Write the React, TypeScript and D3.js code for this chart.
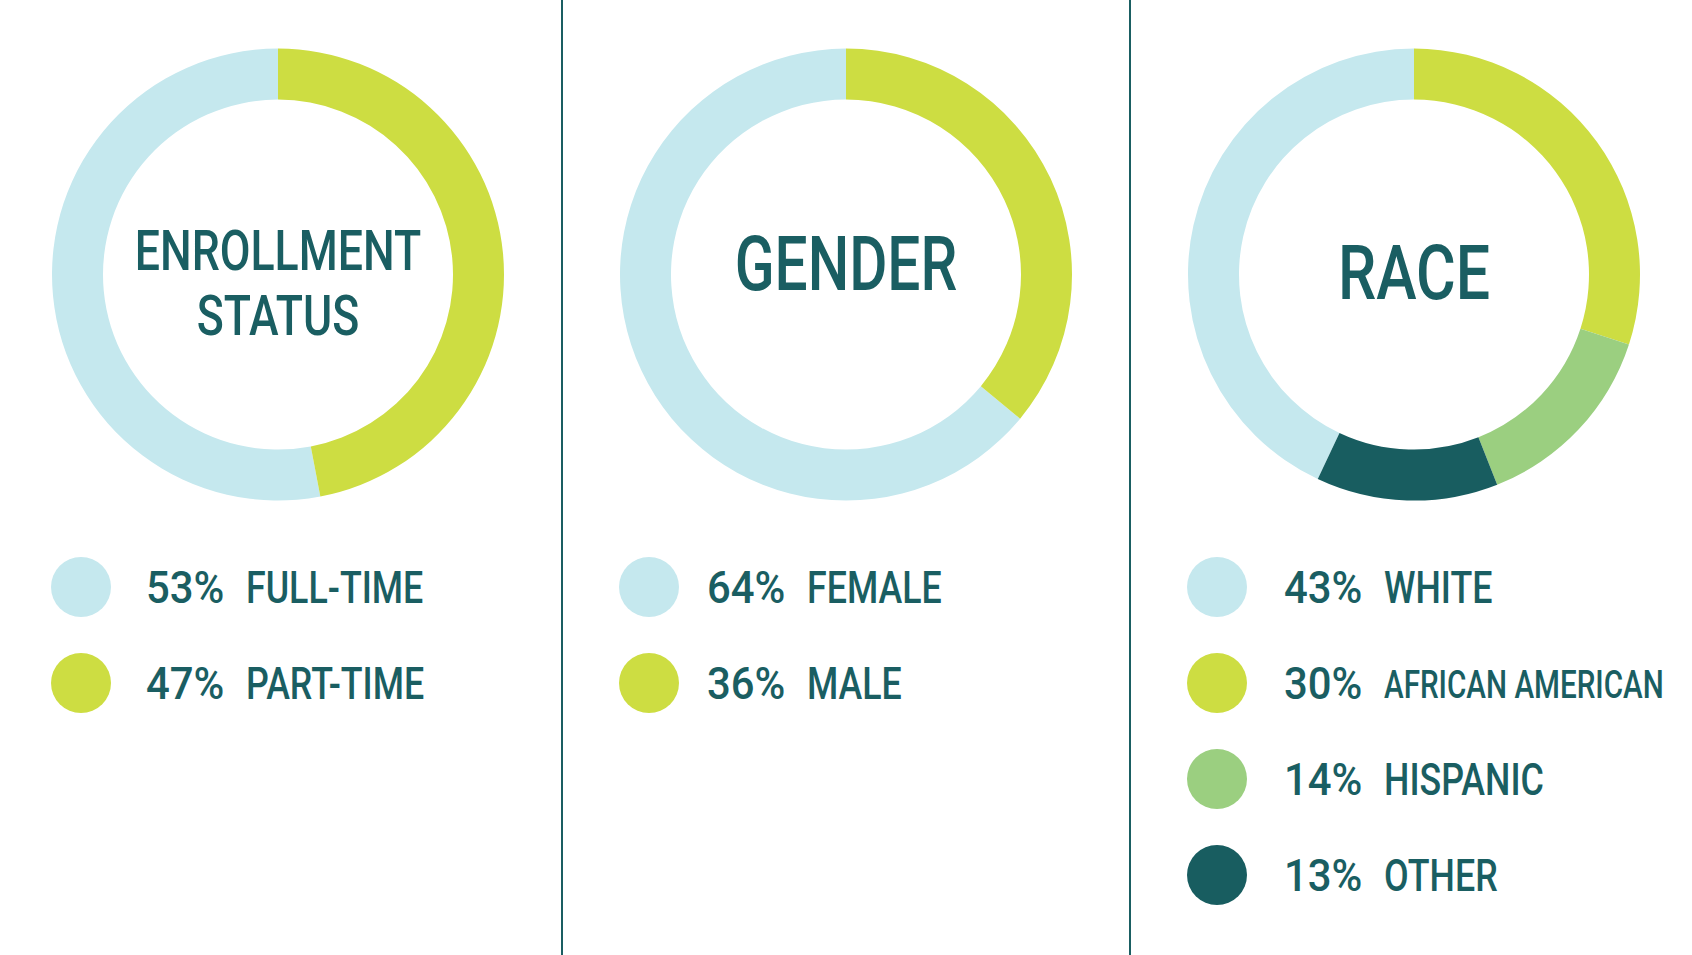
import * as d3 from "d3";
import { useEffect, useRef } from "react";

const panelTitles = [["ENROLLMENT", "STATUS"], ["GENDER"], ["RACE"]];
const enrollLabels = ["FULL-TIME", "PART-TIME"];
const enrollValues = [53, 47];
const genderLabels = ["FEMALE", "MALE"];
const genderValues = [64, 36];
const raceLabels = ["WHITE", "AFRICAN AMERICAN", "HISPANIC", "OTHER"];
const raceValues = [43, 30, 14, 13];

const lightBlue = "#c5e8ee";
const lime = "#cddd42";
const green = "#9bcf80";
const teal = "#185d60";
const textColor = "#1a5e62";

const panelColors = [
  [lightBlue, lime],
  [lightBlue, lime],
  [lightBlue, lime, green, teal],
];

export default function App() {
  const ref = useRef<SVGSVGElement>(null);

  useEffect(() => {
    const width = 1692;
    const height = 955;
    const svg = d3.select(ref.current);
    svg.selectAll("*").remove();
    svg.attr("width", width).attr("height", height);

    const panels = [
      { labels: enrollLabels, values: enrollValues },
      { labels: genderLabels, values: genderValues },
      { labels: raceLabels, values: raceValues },
    ];

    const x = d3.scaleBand<number>().domain([0, 1, 2]).range([-6, 1698]);
    const cy = 274.6;
    const outerR = 226;
    const innerR = 175;
    const arc = d3.arc<d3.PieArcDatum<number>>().innerRadius(innerR).outerRadius(outerR);
    const font = "Roboto, 'Liberation Sans', sans-serif";
    const squeeze = 0.795;

    // dividers between panels
    [1, 2].forEach(i => {
      svg.append("line")
        .attr("x1", x(i)!).attr("x2", x(i)!)
        .attr("y1", 0).attr("y2", height)
        .attr("stroke", textColor)
        .attr("stroke-width", 2);
    });

    const titleSpec = [
      { size: 56, scale: 0.797, lines: [269.8, 334.5] },
      { size: 76, scale: 0.77, lines: [290] },
      { size: 76, scale: 0.8, lines: [299] },
    ];
    // legend text offsets from ring centre (percent, label)
    const legendOffsets = [[-132, -32], [-139, -39], [-130, -30]];

    panels.forEach((p, i) => {
      const cx = x(i)! + x.bandwidth() / 2;
      const g = svg.append("g");
      const total = d3.sum(p.values);
      const start = -2 * Math.PI * p.values[0] / total;
      const pie = d3.pie<number>().sort(null).value(d => d)
        .startAngle(start).endAngle(start + 2 * Math.PI);

      g.append("g")
        .attr("transform", `translate(${cx},${cy})`)
        .selectAll("path")
        .data(pie(p.values))
        .enter()
        .append("path")
        .attr("d", arc)
        .attr("fill", (d, j) => panelColors[i][j]);

      const spec = titleSpec[i];
      panelTitles[i].forEach((t, k) => {
        g.append("text")
          .attr("transform", `translate(${cx},${spec.lines[k]}) scale(${spec.scale},1)`)
          .attr("text-anchor", "middle")
          .attr("font-family", font)
          .attr("font-weight", 500)
          .attr("font-size", spec.size)
          .attr("fill", textColor)
          .text(t);
      });

      const ly = d3.scaleLinear().domain([0, 1]).range([587, 683]);
      const [po, lo] = legendOffsets[i];
      p.labels.forEach((lab, j) => {
        const y = ly(j);
        g.append("circle")
          .attr("cx", cx - 197)
          .attr("cy", y)
          .attr("r", 30)
          .attr("fill", panelColors[i][j]);
        g.append("text")
          .attr("transform", `translate(${cx + po},${y + 16}) scale(0.93,1)`)
          .attr("font-family", font)
          .attr("font-weight", 500)
          .attr("font-size", 45)
          .attr("fill", textColor)
          .text(`${p.values[j]}%`);
        const small = lab.length > 12;
        g.append("text")
          .attr("transform", `translate(${cx + lo},${y + (small ? 14.5 : 16)}) scale(${small ? 0.77 : squeeze},1)`)
          .attr("font-family", font)
          .attr("font-weight", 500)
          .attr("font-size", small ? 38.5 : 45)
          .attr("fill", textColor)
          .text(lab);
      });
    });
  }, []);

  return <svg ref={ref} style={{ position: "absolute", left: 0, top: 0, background: "#fff" }} />;
}
